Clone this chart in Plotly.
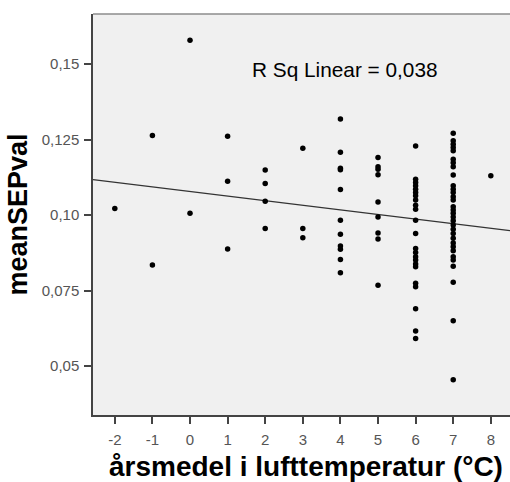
import plotly.graph_objects as go

# Data: x = annual mean air temperature (°C), y = meanSEPval
x_m2 = [-2]
y_m2 = [0.1022]
x_m1 = [-1, -1]
y_m1 = [0.1264, 0.0835]
x_0 = [0, 0]
y_0 = [0.1579, 0.1006]
x_1 = [1, 1, 1]
y_1 = [0.1261, 0.1112, 0.0888]
x_2 = [2, 2, 2, 2]
y_2 = [0.1149, 0.1105, 0.1046, 0.0956]
x_3 = [3, 3, 3]
y_3 = [0.1221, 0.0956, 0.0925]
y_4 = [0.1318, 0.1208, 0.1155, 0.1150, 0.1085, 0.0983, 0.0937, 0.0898,
       0.0887, 0.0853, 0.0809]
y_5 = [0.1191, 0.1160, 0.1152, 0.1134, 0.1043, 0.0994, 0.0941, 0.0921, 0.0768]
y_6 = [0.1229, 0.1119, 0.1108, 0.1097, 0.1086, 0.1075, 0.1064, 0.1050,
       0.1033, 0.1019, 0.0983, 0.0939, 0.0889, 0.0876, 0.0862, 0.0851,
       0.0838, 0.0829, 0.0774, 0.0763, 0.0690, 0.0616, 0.0591]
y_7 = [0.1271, 0.1246, 0.1235, 0.1224, 0.1213, 0.1185, 0.1173, 0.1160,
       0.1133, 0.1097, 0.1086, 0.1075, 0.1061, 0.1050, 0.1028, 0.1017,
       0.1006, 0.0994, 0.0981, 0.0967, 0.0953, 0.0939, 0.0923, 0.0908,
       0.0895, 0.0882, 0.0862, 0.0851, 0.0831, 0.0778, 0.0650, 0.0455]
y_8 = [0.1130]

xs = (x_m2 + x_m1 + x_0 + x_1 + x_2 + x_3
      + [4] * len(y_4) + [5] * len(y_5) + [6] * len(y_6) + [7] * len(y_7)
      + [8] * len(y_8))
ys = y_m2 + y_m1 + y_0 + y_1 + y_2 + y_3 + y_4 + y_5 + y_6 + y_7 + y_8

# Linear fit line
fit_intercept = 0.1078
fit_slope = -0.00152
x_range = [-2.58, 8.51]
y_range = [0.0338, 0.1666]

x_ticks = [-2, -1, 0, 1, 2, 3, 4, 5, 6, 7, 8]
y_ticks = [0.05, 0.075, 0.10, 0.125, 0.15]
y_ticklabels = ["0,05", "0,075", "0,10", "0,125", "0,15"]
r2_label = "R Sq Linear = 0,038"
r2_pos = (4.12, 0.1481)
x_title = "årsmedel i lufttemperatur (°C)"
y_title = "meanSEPval"

fig = go.Figure()
fig.add_trace(go.Scatter(
    x=x_range, y=[fit_intercept + fit_slope * v for v in x_range],
    mode="lines", line=dict(color="#333333", width=1.2),
    hoverinfo="skip", showlegend=False))
fig.add_trace(go.Scatter(
    x=xs, y=ys, mode="markers",
    marker=dict(color="black", size=5.5, line=dict(width=0)),
    showlegend=False))

fig.add_annotation(x=r2_pos[0], y=r2_pos[1], text=r2_label, showarrow=False,
                   xref="x", yref="y", xanchor="center", yanchor="middle",
                   font=dict(family="Liberation Sans, Arial", size=20.8, color="black"))

fig.add_annotation(x=0.51, y=0, xref="paper", yref="paper",
                   text="<b>" + x_title + "</b>", showarrow=False,
                   xanchor="center", yanchor="middle", yshift=-51,
                   font=dict(family="Liberation Sans, Arial", size=28, color="black"))

fig.add_shape(type="line", xref="paper", yref="paper", x0=0, x1=1, y0=1, y1=1,
              line=dict(color="#8c8c8c", width=1.5))

fig.update_layout(
    width=510, height=482,
    margin=dict(l=93, r=0, t=14, b=67),
    paper_bgcolor="white", plot_bgcolor="#f0f0f0",
    font=dict(family="Liberation Sans, Arial", color="#555555"),
    xaxis=dict(range=x_range, tickvals=x_ticks,
               ticktext=[str(v) for v in x_ticks],
               showgrid=False, zeroline=False, showline=True,
               linecolor="#444444", linewidth=1.5,
               ticks="outside", ticklen=7, tickcolor="#444444", tickwidth=1.5,
               ticklabelstandoff=3,
               tickfont=dict(size=15, color="#555555")),
    yaxis=dict(range=y_range, tickvals=y_ticks, ticktext=y_ticklabels,
               showgrid=False, zeroline=False, showline=True,
               linecolor="#444444", linewidth=1.5,
               ticks="outside", ticklen=7, tickcolor="#444444", tickwidth=1.5,
               ticklabelstandoff=2,
               tickfont=dict(size=15, color="#555555"),
               title=dict(text="<b>" + y_title + "</b>",
                          font=dict(size=27, color="black"), standoff=6)),
)

fig.write_html("out.html")
